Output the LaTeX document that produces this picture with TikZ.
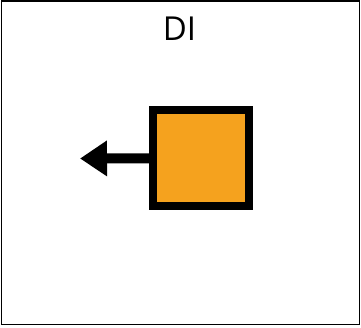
\documentclass[tikz,border=0pt]{standalone}
\usepackage{fontspec}
\setmainfont{Open Sans}
\usetikzlibrary{arrows.meta,backgrounds}
\definecolor{boxorange}{RGB}{245,162,30}
\tikzset{
  frame/.style={draw=black, line width=1.6pt},
  sqbox/.style={draw=black, fill=boxorange, line width=8pt, minimum size=96pt, inner sep=0pt},
  leftarrow/.style={draw=black, line width=10pt, -{Triangle[length=27pt,width=34pt]}},
  titletext/.style={font=\fontsize{33}{36}\selectfont, inner sep=0pt}
}
\begin{document}
\begin{tikzpicture}[x=1pt,y=-1pt]
  \useasboundingbox (0,0) rectangle (361,327);
  \draw[frame] (1.5,1) rectangle (359.5,324.5);
  \node[titletext, anchor=base] (title) at (179.5,40.7) {DI};
  \coordinate (tip) at (80,158.5);
  \node[sqbox] (sq) at (201,158.3) {};
  \begin{scope}[on background layer]
    \draw[leftarrow] (sq.west) -- (tip);
  \end{scope}
\end{tikzpicture}
\end{document}
